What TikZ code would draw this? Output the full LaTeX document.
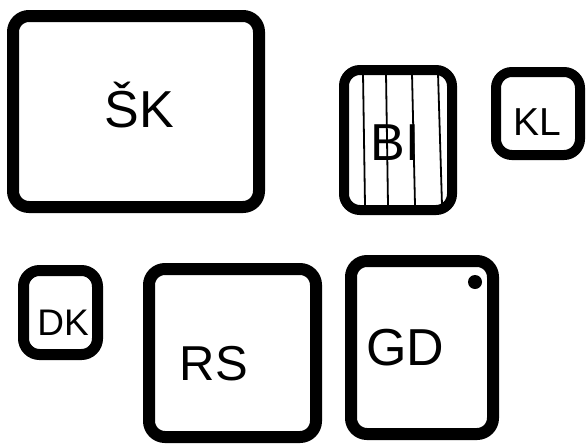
\documentclass[tikz,border=0pt]{standalone}
\usepackage{fontspec}
\setmainfont{Liberation Sans}
\usetikzlibrary{positioning}

\tikzset{
  room/.style={draw, line width=#1, rounded corners=16pt, inner sep=0pt},
  room/.default=12pt,
  tag/.style={anchor=base, inner sep=0pt, font=\fontsize{#1}{#1}\selectfont},
  tag/.default=52
}

\begin{document}
\begin{tikzpicture}[x=1pt, y=-1pt]
        \useasboundingbox (0,0) rectangle (587,445);

        % rooms
        \node[room,       minimum width=246pt, minimum height=191pt] (sk) at (136,111.5) {};
        \node[room=10pt,  minimum width=108pt, minimum height=140pt] (bi) at (398,140) {};
        \node[room=10pt,  minimum width=84pt,  minimum height=83pt]  (kl) at (538,113.5) {};
        \node[room=11pt,  minimum width=74pt,  minimum height=84pt]  (dk) at (60.5,312.5) {};
        \node[room,       minimum width=167pt, minimum height=168pt] (rs) at (232.5,353) {};
        \node[room,       minimum width=142pt, minimum height=173pt] (gd) at (422,347.5) {};

        % stripes in BI
        \foreach \xa/\xb in {363/365, 386/388, 412/415, 438/442}
          \draw[line width=1.8pt] (\xa,73) -- (\xb,205);

        % dot in GD
        \fill (475,282) circle (7pt);

        % labels
        \node[tag]      (sklabel) at (139,127) {ŠK};
        \node[tag]      (bilabel) at (395,160) {BI};
        \node[tag=39]   (kllabel) at (537,135) {KL};
        \node[tag=37]   (dklabel) at (63,335)  {DK};
        \node[tag=49]   (rslabel) at (214,380) {RS};
        \node[tag]      (gdlabel) at (405,365) {GD};
      \end{tikzpicture}
\end{document}
